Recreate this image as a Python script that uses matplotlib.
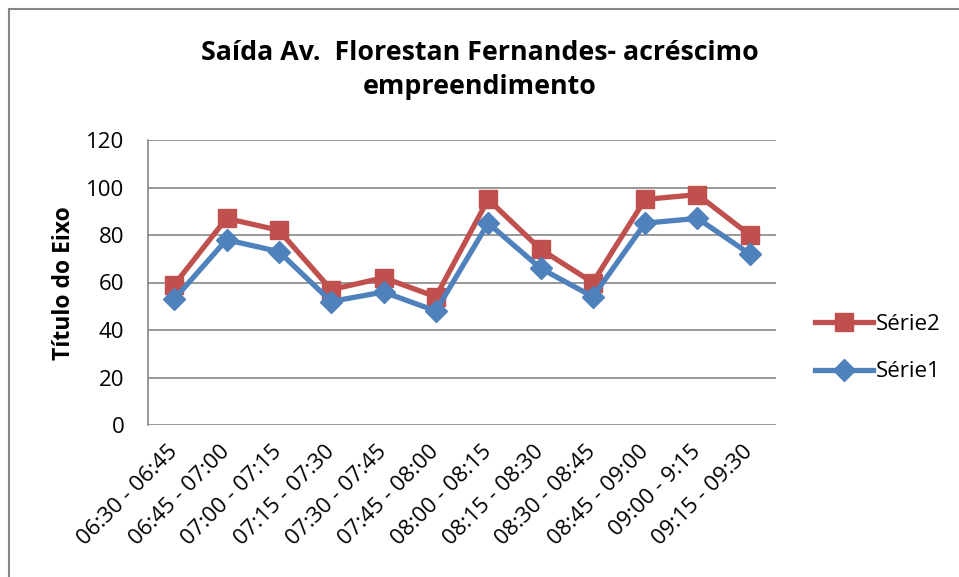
import matplotlib.pyplot as plt
from matplotlib import patches

# periods (15 min intervals)
periodos = ["06:30 - 06:45", "06:45 - 07:00", "07:00 - 07:15", "07:15 - 07:30",
            "07:30 - 07:45", "07:45 - 08:00", "08:00 - 08:15", "08:15 - 08:30",
            "08:30 - 08:45", "08:45 - 09:00", "09:00 - 9:15", "09:15 - 09:30"]
serie1 = [53, 78, 73, 52, 56, 48, 85, 66, 54, 85, 87, 72]
serie2 = [59, 87, 82, 57, 62, 54, 95, 74, 60, 95, 97, 80]
yticks = [0, 20, 40, 60, 80, 100, 120]

plt.rcParams['font.family'] = ['Open Sans', 'DejaVu Sans']

fig = plt.figure(figsize=(9.59, 5.77), dpi=100)
ax = fig.add_axes([148 / 959, 1 - 425 / 577, 628 / 959, 285 / 577])

# outer chart border (only left/top edges visible in the crop)
fig.patches.append(patches.Rectangle((9 / 959, -0.1), 1.1, 1 - 9 / 577 + 0.1,
                                     transform=fig.transFigure, fill=False,
                                     edgecolor='#868686', linewidth=1.5))

x = list(range(len(periodos)))
ax.plot(x, serie2, color='#C0504D', lw=3.8, marker='s', ms=13, label='Série2', zorder=3)
ax.plot(x, serie1, color='#4F81BD', lw=3.8, marker='D', ms=11, label='Série1', zorder=3)

ax.set_xlim(-0.5, len(periodos) - 0.5)
ax.set_ylim(0, 120)
ax.set_yticks(yticks)
ax.set_xticks(x)
ax.set_xticklabels(periodos, rotation=45, ha='right', va='center', rotation_mode='anchor')
ax.tick_params(axis='both', length=0, labelsize=16)
ax.tick_params(axis='x', pad=17)
ax.tick_params(axis='y', pad=17)
ax.yaxis.grid(True, color='#868686', lw=1.2)
ax.set_axisbelow(True)
for s in ['top', 'right', 'bottom']:
    ax.spines[s].set_visible(False)
ax.spines['left'].set_color('#868686')
ax.spines['left'].set_linewidth(1.2)

ax.set_ylabel('Título do Eixo', fontsize=16.5, fontweight='bold')
ax.yaxis.set_label_coords((76 - 148) / 628, (425 - 283) / 285)
fig.text(0.5, 1 - 70 / 577, 'Saída Av.  Florestan Fernandes- acréscimo\nempreendimento',
         ha='center', va='center', fontsize=19.3, fontweight='bold', linespacing=1.45)

fig.legend(*ax.get_legend_handles_labels(), loc='center left',
           bbox_to_anchor=(815 / 959, 1 - 348 / 577), frameon=False, fontsize=16,
           borderpad=0, borderaxespad=0, handlelength=2.6, labelspacing=1.2,
           handletextpad=0.15)

fig.savefig('out.png', dpi=100)
